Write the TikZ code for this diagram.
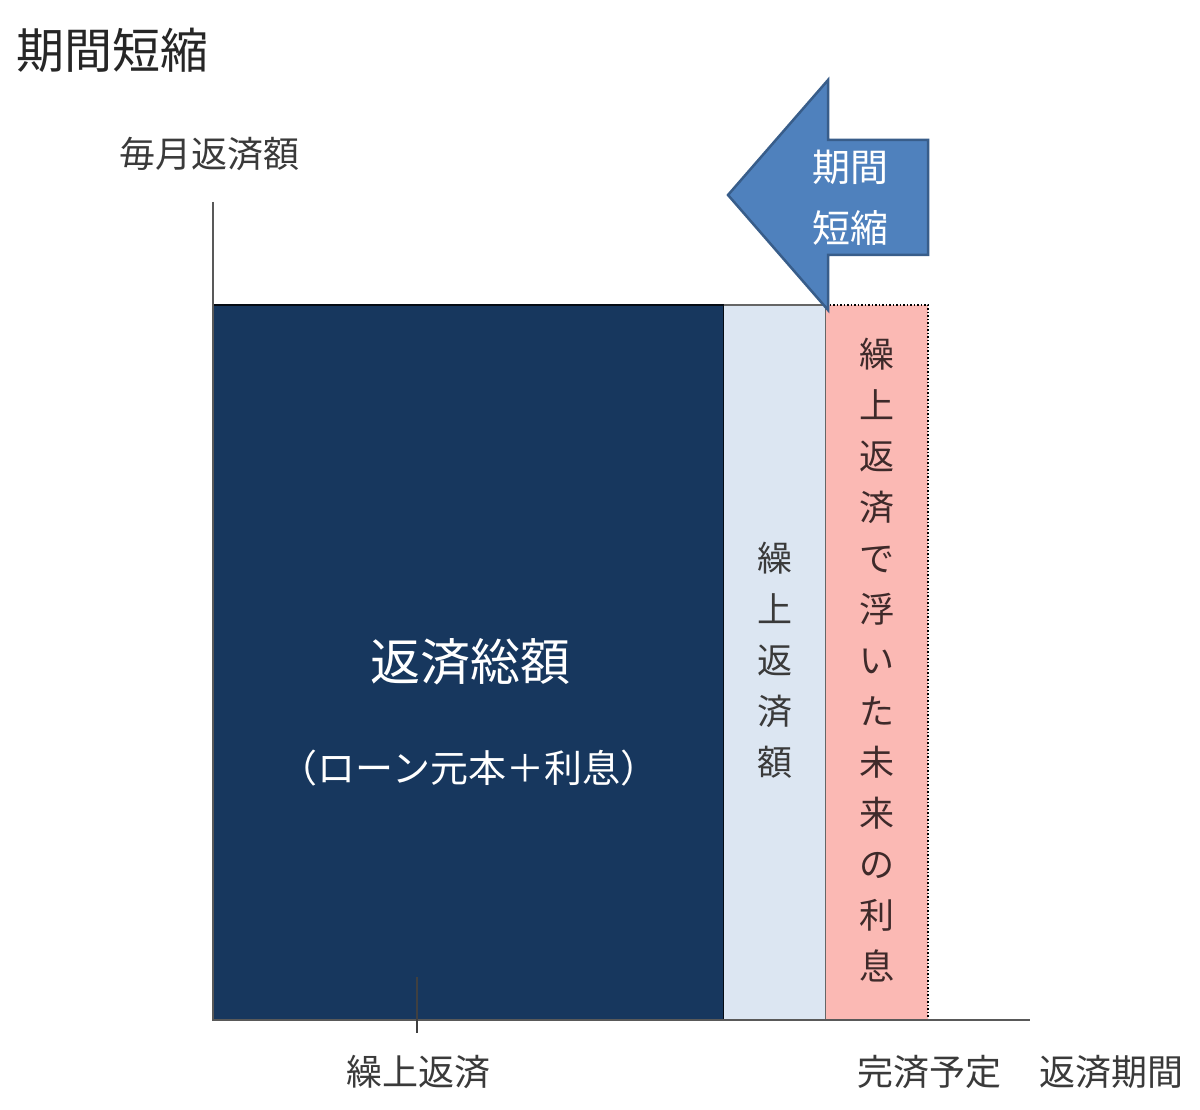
\documentclass[tikz,border=0pt]{standalone}
\usepackage{fontspec}
\setmainfont{Noto Sans CJK JP}
\definecolor{navy}{HTML}{17375E}
\definecolor{lightbl}{HTML}{DCE6F2}
\definecolor{pinkc}{HTML}{FBB9B4}
\definecolor{arrowfill}{HTML}{4F81BD}
\definecolor{arrowline}{HTML}{385D8A}
\definecolor{txtgray}{HTML}{3A3A3A}
\definecolor{pinktxt}{HTML}{3E2A2A}
\begin{document}
\begin{tikzpicture}[x=1pt,y=-1pt,
  axis/.style={draw=black!65,line width=1.6pt},
  lbl/.style={text=txtgray,font=\fontsize{36}{40}\selectfont,inner sep=0pt},
  vtext/.style={align=center,inner sep=0pt,font=\fontsize{35}{51}\selectfont}]
\useasboundingbox[fill=white] (0,0) rectangle (1200,1110);
% bars
\fill[navy] (213,305) rectangle (724,1020);
\draw[black!80!navy,line width=2pt] (213,305) rectangle (724,1020);
\fill[lightbl] (724,305) rectangle (826,1020);
\draw[black!60,line width=1.5pt] (724,305) -- (826,305) -- (826,1020);
\fill[pinkc] (826,305) rectangle (928,1020);
\draw[black,line width=1.5pt,dotted] (826,305) -- (928,305) -- (928,1020);
% axes
\coordinate (o) at (213,1020);
\coordinate (ytop) at (213,202);
\coordinate (xend) at (1030,1020);
\draw[axis] (ytop) -- (o) -- (xend);
\coordinate (tickT) at (417,977);
\coordinate (tickB) at (417,1033);
\draw[black!75,line width=1.5pt] (tickT) -- (tickB);
% arrow
\draw[fill=arrowfill,draw=arrowline,line width=2.5pt,line join=miter]
  (728,195) -- (828,80) -- (828,140) -- (928,140) -- (928,255) -- (828,255) -- (828,310) -- cycle;
\node[text=white,inner sep=0pt,font=\fontsize{38}{61}\selectfont,align=center] (arrtxt) at (850,198) {期間\\短縮};
% texts
\node[text=black!85,inner sep=0pt,font=\fontsize{48}{50}\selectfont,anchor=west] (title) at (16,50) {期間短縮};
\node[lbl,anchor=west] (ylab) at (119,154) {毎月返済額};
\node[text=white,inner sep=0pt,font=\fontsize{50}{54}\selectfont] (total) at (470,662) {返済総額};
\node[text=white,inner sep=0pt,font=\fontsize{38}{40}\selectfont] (totsub) at (469,768) {（ローン元本＋利息）};
\node[vtext,text=txtgray] (lbtxt) at (775,660) {繰\\上\\返\\済\\額};
\node[vtext,text=pinktxt] (pktxt) at (877,660) {繰\\上\\返\\済\\で\\浮\\い\\た\\未\\来\\の\\利\\息};
\node[lbl] (kuri) at (418,1072) {繰上返済};
\node[lbl] (kansai) at (929,1072) {完済予定};
\node[lbl] (kikan) at (1111,1072) {返済期間};
\end{tikzpicture}
\end{document}
